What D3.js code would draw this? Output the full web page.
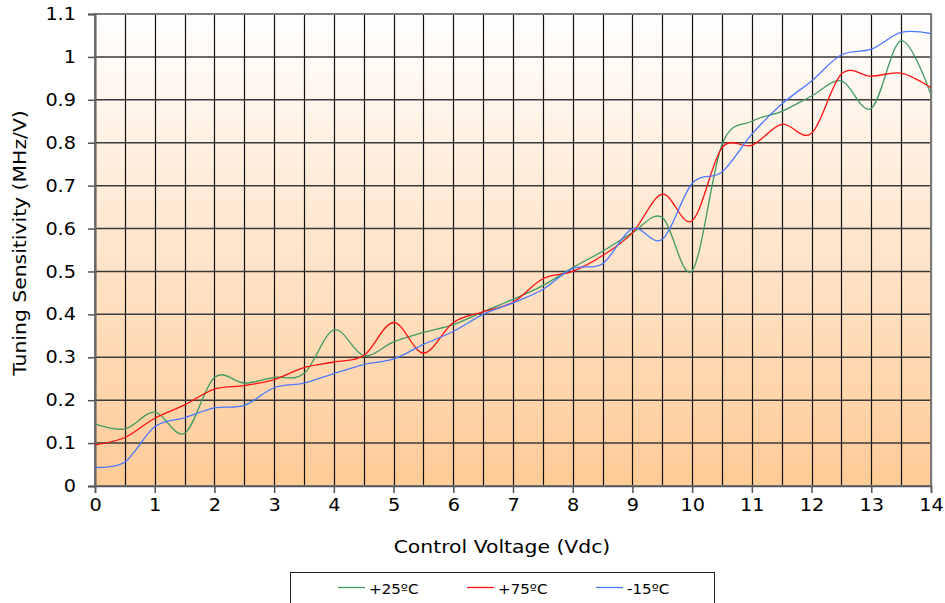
<!DOCTYPE html>
<html>
<head>
<meta charset="utf-8">
<script src="https://cdn.jsdelivr.net/npm/d3@7"></script>
<style>
  html, body { margin: 0; padding: 0; background: #fff; }
  svg { display: block; font-family: "DejaVu Sans", Verdana, sans-serif; }
</style>
</head>
<body>
<svg id="chart" width="945" height="603"></svg>
<script>
// Control voltage samples (Vdc), every 0.5 V
const voltage = [0, 0.5, 1, 1.5, 2, 2.5, 3, 3.5, 4, 4.5, 5, 5.5, 6, 6.5, 7,
  7.5, 8, 8.5, 9, 9.5, 10, 10.5, 11, 11.5, 12, 12.5, 13, 13.5, 14];

// Tuning sensitivity (MHz/V) per temperature
const temp25 = [0.145, 0.133, 0.172, 0.123, 0.253, 0.240, 0.253, 0.262, 0.364, 0.304,
  0.336, 0.358, 0.376, 0.406, 0.435, 0.467, 0.509, 0.547, 0.590, 0.626,
  0.502, 0.796, 0.850, 0.873, 0.909, 0.944, 0.880, 1.038, 0.912];
const temp75 = [0.096, 0.113, 0.158, 0.189, 0.226, 0.234, 0.248, 0.276, 0.289, 0.304,
  0.381, 0.310, 0.381, 0.406, 0.428, 0.483, 0.500, 0.537, 0.590, 0.680,
  0.618, 0.788, 0.794, 0.843, 0.822, 0.960, 0.955, 0.962, 0.928];
const tempM15 = [0.044, 0.056, 0.138, 0.159, 0.182, 0.188, 0.229, 0.240, 0.262, 0.283,
  0.296, 0.330, 0.360, 0.400, 0.427, 0.458, 0.507, 0.518, 0.600, 0.575,
  0.705, 0.732, 0.820, 0.890, 0.944, 1.005, 1.018, 1.057, 1.054];

const seriesNames = ["+25ºC", "+75ºC", "-15ºC"];
const seriesColors = ["#3f9a62", "#ff1010", "#4a78ff"];
const seriesValues = [temp25, temp75, tempM15];

const xTicks = d3.range(0, 15, 1);
const yTicks = [0, 0.1, 0.2, 0.3, 0.4, 0.5, 0.6, 0.7, 0.8, 0.9, 1, 1.1];
const xGrid = d3.range(0, 14.01, 0.5);

const svg = d3.select("#chart");
const m = { left: 95, right: 931, top: 14, bottom: 486 };

const x = d3.scaleLinear().domain([0, 14]).range([m.left, m.right]);
const y = d3.scaleLinear().domain([0, 1.1]).range([m.bottom, m.top]);

// widen glyphs horizontally (wide sans look)
function stretch(sel, k) {
  sel.each(function () {
    const w = this.getComputedTextLength();
    d3.select(this).attr("textLength", w * k).attr("lengthAdjust", "spacingAndGlyphs");
  });
}

// plot background gradient
const defs = svg.append("defs");
const grad = defs.append("linearGradient")
  .attr("id", "bg").attr("x1", 0).attr("y1", 0).attr("x2", 0).attr("y2", 1);
grad.append("stop").attr("offset", "0%").attr("stop-color", "#ffffff");
grad.append("stop").attr("offset", "100%").attr("stop-color", "#ffcb96");

svg.append("rect")
  .attr("x", m.left).attr("y", m.top)
  .attr("width", m.right - m.left).attr("height", m.bottom - m.top)
  .attr("fill", "url(#bg)");

// vertical grid every 0.5 V
svg.append("g").selectAll("line").data(xGrid).join("line")
  .attr("x1", d => Math.round(x(d)) + 0.5).attr("x2", d => Math.round(x(d)) + 0.5)
  .attr("y1", m.top).attr("y2", m.bottom)
  .attr("stroke", "#111").attr("stroke-width", 1.2);

// horizontal grid every 0.1
svg.append("g").selectAll("line").data(yTicks).join("line")
  .attr("x1", m.left).attr("x2", m.right)
  .attr("y1", d => y(d)).attr("y2", d => y(d))
  .attr("stroke", "#3a3a3a").attr("stroke-width", 1.5);

// plot border
svg.append("rect")
  .attr("x", m.left).attr("y", m.top)
  .attr("width", m.right - m.left).attr("height", m.bottom - m.top)
  .attr("fill", "none").attr("stroke", "#7a7a7a").attr("stroke-width", 2);

// axes
const xAxis = d3.axisBottom(x).tickValues(xTicks).tickSize(7).tickPadding(6)
  .tickFormat(d3.format("d"));
const gx = svg.append("g").attr("transform", `translate(0,${m.bottom})`).call(xAxis);
gx.select(".domain").attr("stroke", "#555").attr("stroke-width", 1.5);
gx.selectAll(".tick line").attr("stroke", "#555").attr("stroke-width", 1.5);
gx.selectAll(".tick text").attr("font-size", 17.5).attr("fill", "#000")
  .attr("font-family", "DejaVu Sans, Verdana, sans-serif")
  .call(stretch, 1.1);

const yAxis = d3.axisLeft(y).tickValues(yTicks).tickSize(7).tickPadding(12)
  .tickFormat(d => d3.format("")(+d.toFixed(1)));
const gy = svg.append("g").attr("transform", `translate(${m.left},0)`).call(yAxis);
gy.select(".domain").attr("stroke", "#666").attr("stroke-width", 2);
gy.selectAll(".tick line").attr("stroke", "#555").attr("stroke-width", 1.5);
gy.selectAll(".tick text").attr("font-size", 17.5).attr("fill", "#000")
  .attr("font-family", "DejaVu Sans, Verdana, sans-serif")
  .call(stretch, 1.1);

// axis titles
svg.append("text")
  .attr("x", 502).attr("y", 553)
  .attr("text-anchor", "middle").attr("font-size", 18)
  .text("Control Voltage (Vdc)")
  .call(stretch, 1.13);
svg.append("text")
  .attr("transform", "translate(26,243) rotate(-90)")
  .attr("text-anchor", "middle").attr("font-size", 18)
  .text("Tuning Sensitivity (MHz/V)")
  .call(stretch, 1.13);

// smoothed series lines
const line = d3.line()
  .x((d, i) => x(voltage[i]))
  .y(d => y(d))
  .curve(d3.curveCardinal.tension(0));

svg.append("g").selectAll("path")
  .data(seriesValues).join("path")
  .attr("d", d => line(d))
  .attr("fill", "none")
  .attr("stroke", (d, i) => seriesColors[i])
  .attr("stroke-width", 1.3);

// legend
const legend = svg.append("g");
legend.append("rect")
  .attr("x", 290.5).attr("y", 572.5).attr("width", 424).attr("height", 40)
  .attr("fill", "#fff").attr("stroke", "#222").attr("stroke-width", 1);
const legendX = [338, 467, 596];
seriesNames.forEach((name, i) => {
  legend.append("line")
    .attr("x1", legendX[i]).attr("x2", legendX[i] + 27)
    .attr("y1", 587.5).attr("y2", 587.5)
    .attr("stroke", seriesColors[i]).attr("stroke-width", 1.3);
  legend.append("text")
    .attr("x", legendX[i] + 31).attr("y", 593.5)
    .attr("font-size", 14.5)
    .text(name)
    .call(stretch, 1.04);
});
</script>
</body>
</html>
